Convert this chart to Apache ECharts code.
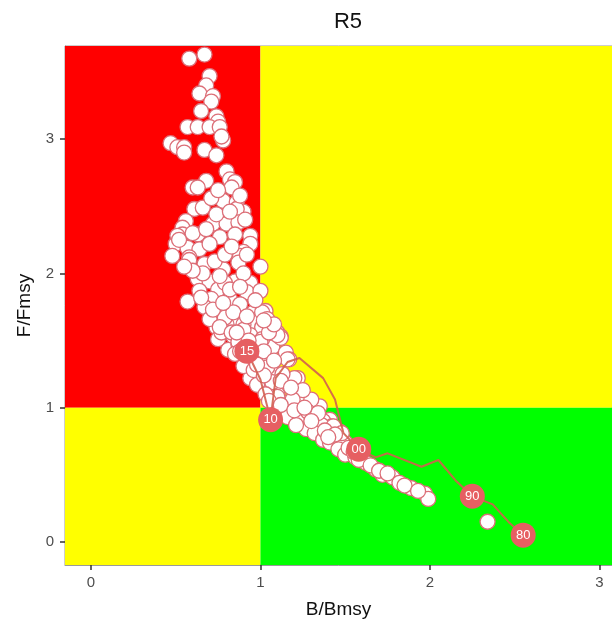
<!DOCTYPE html>
<html>
<head>
<meta charset="utf-8">
<script src="https://cdn.jsdelivr.net/npm/echarts@6/dist/echarts.min.js"></script>
<style>
html,body{margin:0;padding:0;background:#fff;}
#c{width:612px;height:628px;}
</style>
</head>
<body>
<div id="c"></div>
<script>
// Axis ranges
const xMin = -0.153, xMax = 3.074;
const yMin = -0.172, yMax = 3.694;
const xTicks = [0, 1, 2, 3];
const yTicks = [0, 1, 2, 3];

// Scatter cloud (B/Bmsy, F/Fmsy)
const cloudB = [
0.58,0.67,0.70,0.68,0.64,0.72,0.71,0.65,0.74,0.75,0.57,0.63,0.70,0.76,0.47,0.51,0.55,0.67,0.78,0.77,
0.55,0.74,0.80,0.82,0.85,0.83,0.68,0.60,0.63,0.78,0.86,0.90,0.86,0.61,0.66,0.56,0.72,0.80,0.87,0.91,
0.54,0.54,0.63,0.85,0.76,0.94,0.50,0.57,0.64,0.94,0.90,0.48,0.58,0.88,0.58,0.87,0.92,0.78,1.00,0.63,
0.70,0.85,0.94,0.75,0.57,0.71,0.82,0.92,1.00,0.73,0.84,0.96,1.03,0.74,0.83,0.96,1.01,0.75,0.84,0.94,
1.07,0.81,1.10,0.80,1.12,1.07,1.15,1.17,1.01,0.91,1.07,1.22,0.95,1.15,1.00,1.22,1.10,1.29,1.16,1.35,
1.23,1.15,1.33,1.41,1.25,0.51,0.67,0.73,0.79,0.64,0.79,0.88,0.67,0.79,0.90,0.70,0.87,0.77,0.97,1.01,
0.91,1.12,1.16,0.94,1.20,1.10,1.25,1.30,1.16,1.23,1.37,1.42,1.47,1.45,1.50,1.51,0.72,0.84,0.76,0.83,
0.90,1.01,0.87,1.00,0.90,0.96,1.04,1.07,1.22,1.36,1.27,1.43,1.48,1.32,1.37,1.41,1.46,1.50,1.56,1.62,
1.68,1.72,1.78,1.82,1.89,1.97,1.99,2.34,0.85,0.98,1.03,1.10,1.16,1.21,1.13,1.25,1.19,1.28,1.34,1.04,
1.10,
0.52,0.60,0.68,0.74,0.82,0.70,0.83,0.66,0.76,0.90,0.60,0.55,0.82,0.88,0.97,0.78,0.65,0.71,0.75,0.88,
0.88,0.95,1.02,1.08,1.12,1.18,1.02,0.98,1.05,1.12,1.20,1.26,1.30,1.38,1.44,1.40,1.52,1.55,1.58,1.65,
1.70,1.75,1.85,1.93,0.93,0.86,1.05,1.08,1.02,0.92
];
const cloudF = [
3.60,3.63,3.47,3.40,3.34,3.32,3.28,3.21,3.17,3.13,3.09,3.09,3.09,3.09,2.97,2.94,2.94,2.92,2.99,3.02,
2.90,2.88,2.76,2.70,2.68,2.64,2.69,2.64,2.64,2.54,2.53,2.46,2.48,2.48,2.49,2.39,2.37,2.37,2.38,2.40,
2.34,2.29,2.29,2.29,2.27,2.28,2.22,2.19,2.18,2.22,2.16,2.13,2.12,2.13,2.10,2.08,2.14,2.03,2.05,1.96,
1.94,1.94,1.93,1.88,1.79,1.81,1.81,1.86,1.87,1.72,1.69,1.71,1.72,1.60,1.63,1.64,1.60,1.51,1.53,1.54,
1.46,1.43,1.56,1.62,1.53,1.45,1.41,1.36,1.36,1.31,1.26,1.22,1.22,1.17,1.16,1.11,1.10,1.04,1.04,1.01,
0.99,0.97,0.93,0.91,0.91,2.28,2.07,2.09,2.14,1.87,1.93,1.77,1.75,1.67,1.62,1.66,1.47,1.56,1.47,1.51,
1.36,1.52,1.36,1.22,1.22,1.08,1.06,1.06,1.01,0.95,0.90,0.86,0.82,0.76,0.74,0.67,1.73,1.71,1.60,1.56,
1.58,1.71,1.49,1.49,1.31,1.28,1.30,1.19,0.90,0.87,0.84,0.86,0.81,0.81,0.76,0.74,0.69,0.65,0.63,0.59,
0.54,0.50,0.48,0.44,0.40,0.36,0.32,0.15,1.40,1.17,1.10,0.99,0.93,0.87,1.25,1.13,1.06,0.97,0.96,1.66,
1.54,
2.25,2.30,2.33,2.44,2.46,2.22,2.20,2.00,1.98,2.00,2.02,2.05,1.88,1.90,1.80,1.78,1.82,2.56,2.62,2.58,
1.42,1.38,1.42,1.35,1.20,1.15,1.24,1.32,1.05,1.02,0.98,1.00,0.90,0.83,0.80,0.78,0.70,0.67,0.61,0.57,
0.53,0.51,0.42,0.38,1.50,1.56,1.56,1.62,1.65,1.68
];

// Trajectory (1980 -> 2015)
const trajB = [2.55,2.47,2.37,2.25,2.15,2.05,1.95,1.75,1.68,1.58,1.49,1.47,1.44,1.37,1.23,1.16,1.09,1.07,1.06,1.00,0.92];
const trajF = [0.05,0.14,0.28,0.34,0.46,0.61,0.56,0.66,0.63,0.69,0.81,0.91,1.06,1.22,1.37,1.34,1.22,1.02,0.91,1.21,1.42];

// Year labels
const labelText = ['80','90','00','10','15'];
const labelB = [2.55,2.25,1.58,1.06,0.92];
const labelF = [0.05,0.34,0.69,0.91,1.42];

const cloud = cloudB.map((b,i)=>[b, cloudF[i]]);
const traj = trajB.map((b,i)=>[b, trajF[i]]);
const labels = labelB.map((b,i)=>[b, labelF[i], labelText[i]]);

const chart = echarts.init(document.getElementById('c'), null, {renderer:'canvas'});
const fontFam = '"Liberation Sans", Arial, sans-serif';
chart.setOption({
  animation:false,
  backgroundColor:'#ffffff',
  title:{
    text:'R5', left:343, top:6, textAlign:'center',
    textStyle:{fontFamily:fontFam, fontSize:22, fontWeight:'normal', color:'#111'}
  },
  grid:{left:65, right:0, top:46, bottom:63, show:true, borderColor:'#9a9a9a', borderWidth:1, backgroundColor:'transparent'},
  xAxis:{
    type:'value', min:xMin, max:xMax,
    name:'B/Bmsy', nameLocation:'middle', nameGap:35,
    nameTextStyle:{fontFamily:fontFam, fontSize:19, color:'#111'},
    axisLine:{show:true, onZero:false, lineStyle:{color:'#9a9a9a', width:1}},
    splitLine:{show:false},
    axisTick:{show:true, inside:false, length:5, lineStyle:{color:'#333', width:1.5}, customValues:xTicks},
    axisLabel:{fontFamily:fontFam, fontSize:15, color:'#4d4d4d', margin:10, customValues:xTicks}
  },
  yAxis:{
    type:'value', min:yMin, max:yMax,
    name:'F/Fmsy', nameLocation:'middle', nameGap:31, nameRotate:90,
    nameTextStyle:{fontFamily:fontFam, fontSize:19, color:'#111'},
    axisLine:{show:true, onZero:false, lineStyle:{color:'#9a9a9a', width:1}},
    splitLine:{show:false},
    axisTick:{show:true, inside:false, length:5, lineStyle:{color:'#333', width:1.5}, customValues:yTicks},
    axisLabel:{fontFamily:fontFam, fontSize:15, color:'#4d4d4d', margin:11, customValues:yTicks}
  },
  series:[
    {
      type:'line', data:[], silent:true, z:1,
      markArea:{
        silent:true,
        data:[
          [{xAxis:xMin, yAxis:1, itemStyle:{color:'#ff0000'}},{xAxis:1, yAxis:yMax}],
          [{xAxis:1, yAxis:1, itemStyle:{color:'#ffff00'}},{xAxis:xMax, yAxis:yMax}],
          [{xAxis:xMin, yAxis:yMin, itemStyle:{color:'#ffff00'}},{xAxis:1, yAxis:1}],
          [{xAxis:1, yAxis:yMin, itemStyle:{color:'#00ff00'}},{xAxis:xMax, yAxis:1}]
        ],
        itemStyle:{opacity:1}
      }
    },
    {
      type:'scatter', data:cloud, z:3, symbolSize:15, silent:true,
      itemStyle:{color:'#ffffff', borderColor:'#dc6f78', borderWidth:1.3, opacity:1}
    },
    {
      type:'line', data:traj, z:4, symbol:'none', silent:true,
      lineStyle:{color:'rgba(210,95,80,0.9)', width:2}
    },
    {
      type:'scatter', data:labels, z:5, symbolSize:25, silent:true,
      itemStyle:{color:'#e65f62', opacity:1},
      label:{show:true, position:'inside', formatter:p=>p.value[2], color:'#ffffff', fontFamily:fontFam, fontSize:13}
    }
  ]
});
</script>
</body>
</html>
